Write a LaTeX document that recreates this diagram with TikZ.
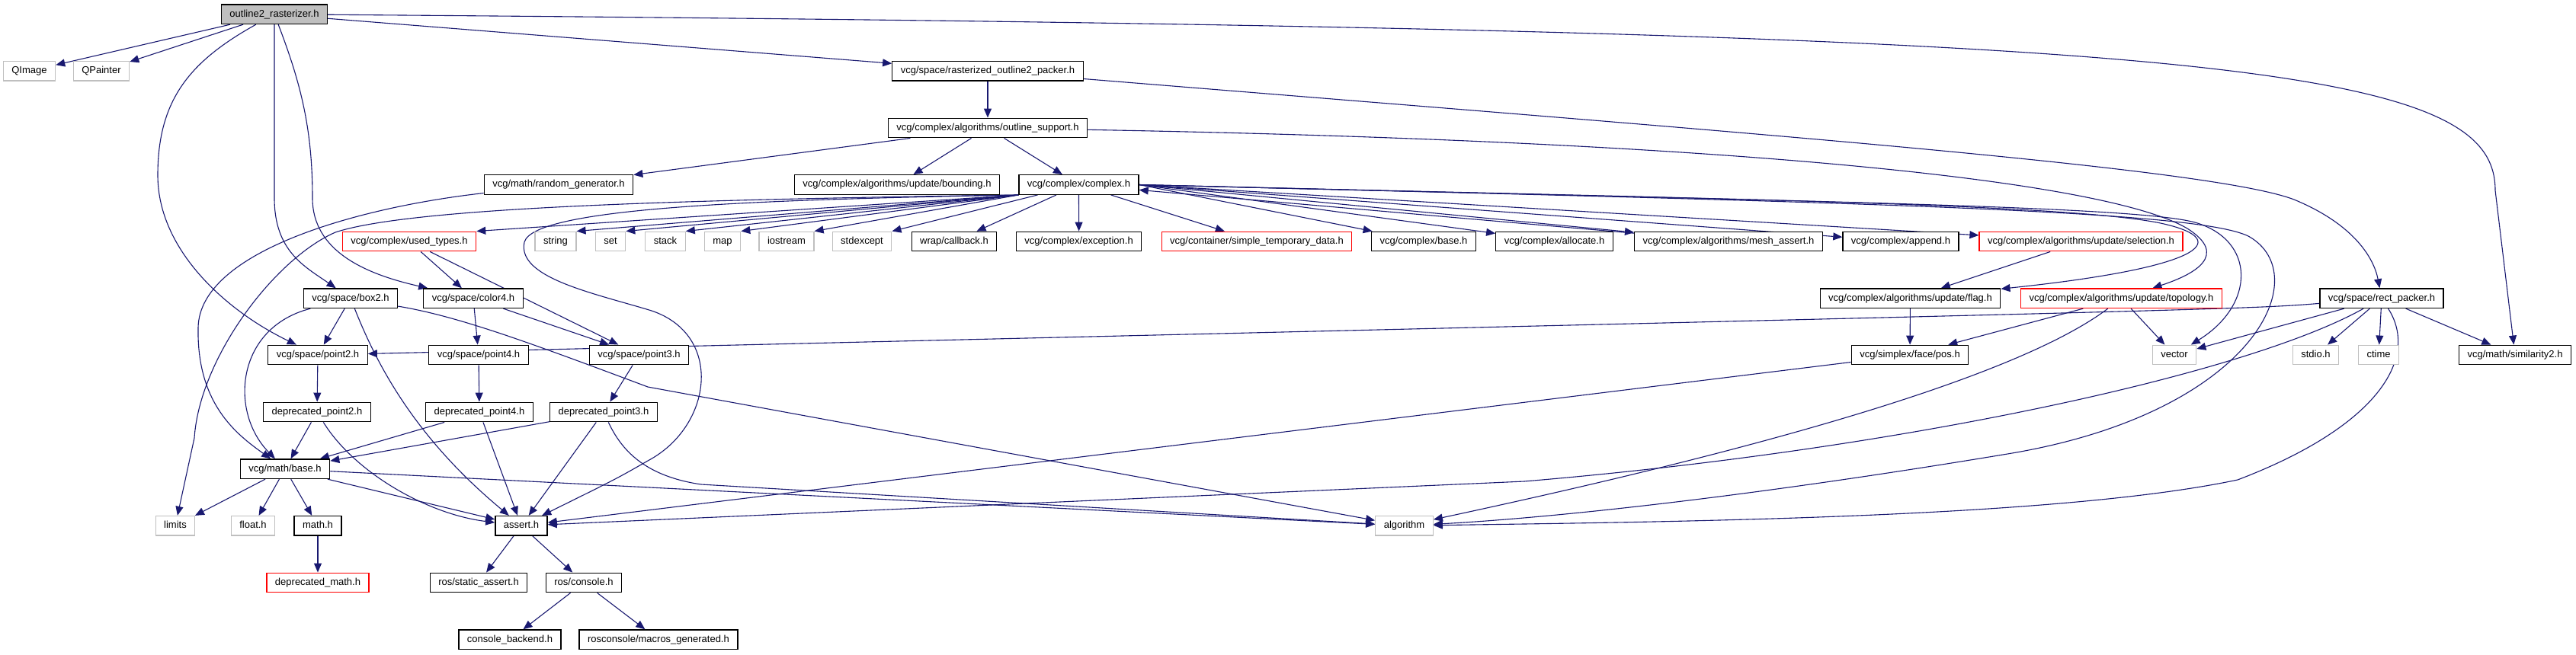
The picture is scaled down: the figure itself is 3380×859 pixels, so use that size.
\documentclass[tikz,border=0pt]{standalone}
\usepackage{fontspec}
\setmainfont{Liberation Sans}
\usetikzlibrary{arrows.meta,backgrounds}
\definecolor{edgeblue}{HTML}{191970}
\definecolor{sysgrey}{HTML}{BFBFBF}
\definecolor{cutred}{HTML}{FF0000}
\begin{document}
\begin{tikzpicture}[x=0.5pt, y=-0.5pt,
  hdr/.style={draw=black, fill=white, line width=0.65pt, rectangle,
    minimum height=12.75pt, inner xsep=5.5pt, inner ysep=3.2pt,
    text height=4.9pt, text depth=1.5pt,
    font=\fontsize{6.5pt}{7.8pt}\selectfont},
  syshdr/.style={hdr, draw=sysgrey},
  cuthdr/.style={hdr, draw=cutred},
  roothdr/.style={hdr, fill=sysgrey},
  inc/.style={draw=edgeblue, line width=0.55pt, -{Triangle[length=6pt,width=5pt]}}]
  \useasboundingbox (0,0) rectangle (3380,859);

  % top rows
  \node[roothdr] (root) at (360,18.7) {outline2\_rasterizer.h};
  \node[syshdr] (qimage) at (38.5,93.3) {QImage};
  \node[syshdr] (qpainter) at (133,93.3) {QPainter};
  \node[hdr] (rpacker) at (1296,93.3) {vcg/space/rasterized\_outline2\_packer.h};
  \node[hdr] (osupport) at (1296,168) {vcg/complex/algorithms/outline\_support.h};
  \node[hdr] (randgen) at (733,242.5) {vcg/math/random\_generator.h};
  \node[hdr] (bounding) at (1177,242.5) {vcg/complex/algorithms/update/bounding.h};
  \node[hdr] (complex) at (1415.5,242.5) {vcg/complex/complex.h};

  % what complex.h pulls in
  \node[cuthdr] (usedtypes) at (537,317) {vcg/complex/used\_types.h};
  \node[syshdr] (string) at (729,317) {string};
  \node[syshdr] (set) at (801,317) {set};
  \node[syshdr] (stack) at (873,317) {stack};
  \node[syshdr] (map) at (948,317) {map};
  \node[syshdr] (iostream) at (1032,317) {iostream};
  \node[syshdr] (stdexcept) at (1131,317) {stdexcept};
  \node[hdr] (callback) at (1252,317) {wrap/callback.h};
  \node[hdr] (exception) at (1415.6,317) {vcg/complex/exception.h};
  \node[cuthdr] (simpletmp) at (1649,317) {vcg/container/simple\_temporary\_data.h};
  \node[hdr] (cbase) at (1868,317) {vcg/complex/base.h};
  \node[hdr] (allocate) at (2039.5,317) {vcg/complex/allocate.h};
  \node[hdr] (meshassert) at (2268,317) {vcg/complex/algorithms/mesh\_assert.h};
  \node[hdr] (append) at (2494,317) {vcg/complex/append.h};
  \node[cuthdr] (selection) at (2730.5,317) {vcg/complex/algorithms/update/selection.h};

  % space headers and updaters
  \node[hdr] (box2) at (460,391.7) {vcg/space/box2.h};
  \node[hdr] (color4) at (621,391.7) {vcg/space/color4.h};
  \node[hdr] (flag) at (2506.5,391.7) {vcg/complex/algorithms/update/flag.h};
  \node[cuthdr] (topology) at (2783.5,391.7) {vcg/complex/algorithms/update/topology.h};
  \node[hdr] (rectpacker) at (3125,391.7) {vcg/space/rect\_packer.h};

  \node[hdr] (point2) at (417,466) {vcg/space/point2.h};
  \node[hdr] (point4) at (628,466) {vcg/space/point4.h};
  \node[hdr] (point3) at (838.5,466) {vcg/space/point3.h};
  \node[hdr] (pos) at (2506,466) {vcg/simplex/face/pos.h};
  \node[syshdr] (vector) at (2853,466) {vector};
  \node[syshdr] (stdio) at (3038.5,466) {stdio.h};
  \node[syshdr] (ctime) at (3121,466) {ctime};
  \node[hdr] (similarity) at (3300,466) {vcg/math/similarity2.h};

  \node[hdr] (dpoint2) at (416,541) {deprecated\_point2.h};
  \node[hdr] (dpoint4) at (629,541) {deprecated\_point4.h};
  \node[hdr] (dpoint3) at (792,541) {deprecated\_point3.h};

  % math and ros
  \node[hdr] (mbase) at (374,615.7) {vcg/math/base.h};
  \node[syshdr] (limits) at (230,690.3) {limits};
  \node[syshdr] (float) at (332,690.3) {float.h};
  \node[hdr] (math) at (417,690.3) {math.h};
  \node[hdr] (assert) at (684,690.3) {assert.h};
  \node[syshdr] (algorithm) at (1842.5,690.3) {algorithm};
  \node[cuthdr] (dmath) at (417,765) {deprecated\_math.h};
  \node[hdr] (sassert) at (628,765) {ros/static\_assert.h};
  \node[hdr] (console) at (766,765) {ros/console.h};
  \node[hdr] (cbackend) at (669,839.7) {console\_backend.h};
  \node[hdr] (macros) at (864,839.7) {rosconsole/macros\_generated.h};

  \begin{pgfonlayer}{background}
  % from the root file
  \draw[inc] (root) -- (qimage);
  \draw[inc] (root) -- (qpainter);
  \draw[inc] (root) -- (rpacker);
  \draw[inc] (root) .. controls (2900,38) and (3274,80) .. (3274,250) -- (similarity);
  \draw[inc] (root) .. controls (250,80) and (207,130) .. (207,230) .. controls (207,330) and (300,410) .. (point2);
  \draw[inc] (root) -- (360,260) .. controls (360,330) and (400,350) .. (box2);
  \draw[inc] (root) .. controls (395,110) and (410,170) .. (410,260) .. controls (410,330) and (480,360) .. (color4);

  % packers and outline support
  \draw[inc] (rpacker) -- (osupport);
  \draw[inc] (rpacker) .. controls (2300,175) and (2900,220) .. (3010,262) .. controls (3090,295) and (3115,340) .. (rectpacker);
  \draw[inc] (osupport) -- (randgen);
  \draw[inc] (osupport) -- (bounding);
  \draw[inc] (osupport) -- (complex);
  \draw[inc] (osupport) .. controls (2250,185) and (2760,235) .. (2870,300) .. controls (2925,335) and (2880,360) .. (topology);
  \draw[inc] (randgen) .. controls (470,272) and (262,330) .. (260,430) .. controls (258,530) and (310,570) .. (mbase);

  % complex.h
  \draw[inc] (complex.south west) -- (usedtypes.north east);
  \draw[inc] (complex.south west) -- (string.north east);
  \draw[inc] (complex.south west) -- (set.north east);
  \draw[inc] (complex.south west) -- (stack.north east);
  \draw[inc] (complex.south west) -- (map.north east);
  \draw[inc] (complex.south west) -- (iostream.north east);
  \draw[inc] (complex) -- (stdexcept.north east);
  \draw[inc] (complex) -- (callback);
  \draw[inc] (complex) -- (exception);
  \draw[inc] (complex) -- (simpletmp);
  \draw[inc] (complex.east) -- (cbase);
  \draw[inc] (complex.east) -- (allocate);
  \draw[inc] (complex.east) -- (meshassert);
  \draw[inc] (meshassert) -- (complex);
  \draw[inc] (complex.east) -- (append);
  \draw[inc] (complex.east) -- (selection);
  \draw[inc] (complex.east) .. controls (2300,262) and (2700,268) .. (2830,292) .. controls (2930,312) and (2905,350) .. (flag);
  \draw[inc] (complex.east) .. controls (2350,264) and (2800,270) .. (2880,292) .. controls (2960,315) and (2960,400) .. (vector);
  \draw[inc] (complex.east) .. controls (2450,266) and (2880,276) .. (2950,310) .. controls (3040,360) and (2960,540) .. (2640,595) .. controls (2250,660) and (2000,682) .. (algorithm);
  \draw[inc] (complex.south west) .. controls (900,262) and (540,272) .. (440,305) .. controls (360,340) and (262,470) .. (255,575) -- (limits);
  \draw[inc] (complex.south west) .. controls (1000,262) and (700,272) .. (688,318) .. controls (678,365) and (780,385) .. (855,408) .. controls (950,440) and (935,560) .. (850,605) .. controls (810,628) .. (assert);

  % space headers
  \draw[inc] (usedtypes) -- (color4);
  \draw[inc] (usedtypes) -- (point3);
  \draw[inc] (box2) -- (point2);
  \draw[inc] (box2) .. controls (495,480) and (545,575) .. (assert);
  \draw[inc] (box2) .. controls (310,430) and (300,540) .. (mbase);
  \draw[inc] (box2) .. controls (600,415) and (690,448) .. (850,508) -- (algorithm);
  \draw[inc] (color4) -- (point4);
  \draw[inc] (color4) -- (point3);
  \draw[inc] (point2) -- (dpoint2);
  \draw[inc] (point4) -- (dpoint4);
  \draw[inc] (point3) -- (dpoint3);
  \draw[inc] (dpoint2) -- (mbase);
  \draw[inc] (dpoint2) .. controls (465,620) and (560,675) .. (assert);
  \draw[inc] (dpoint4) -- (mbase);
  \draw[inc] (dpoint4) -- (assert);
  \draw[inc] (dpoint3) -- (mbase);
  \draw[inc] (dpoint3) -- (assert);
  \draw[inc] (dpoint3) .. controls (815,590) and (845,625) .. (920,636) -- (algorithm);

  % math and ros
  \draw[inc] (mbase) -- (limits);
  \draw[inc] (mbase) -- (float);
  \draw[inc] (mbase) -- (math);
  \draw[inc] (mbase) -- (assert);
  \draw[inc] (mbase) -- (algorithm);
  \draw[inc] (math) -- (dmath);
  \draw[inc] (assert) -- (sassert);
  \draw[inc] (assert) -- (console);
  \draw[inc] (console) -- (cbackend);
  \draw[inc] (console) -- (macros);

  % update headers
  \draw[inc] (selection) -- (flag);
  \draw[inc] (flag) -- (pos);
  \draw[inc] (topology) -- (pos);
  \draw[inc] (topology) -- (vector);
  \draw[inc] (topology) .. controls (2680,470) and (2450,560) .. (algorithm);
  \draw[inc] (pos) -- (assert);

  % rect packer
  \draw[inc] (rectpacker) .. controls (2950,406) .. (point2);
  \draw[inc] (rectpacker) -- (vector);
  \draw[inc] (rectpacker) -- (stdio);
  \draw[inc] (rectpacker) -- (ctime);
  \draw[inc] (rectpacker) -- (similarity);
  \draw[inc] (rectpacker) .. controls (2950,490) and (2500,590) .. (2000,632) -- (assert);
  \draw[inc] (rectpacker) .. controls (3175,470) and (3120,560) .. (2936,630) .. controls (2700,680) and (2200,685) .. (algorithm);
  \end{pgfonlayer}
\end{tikzpicture}
\end{document}
